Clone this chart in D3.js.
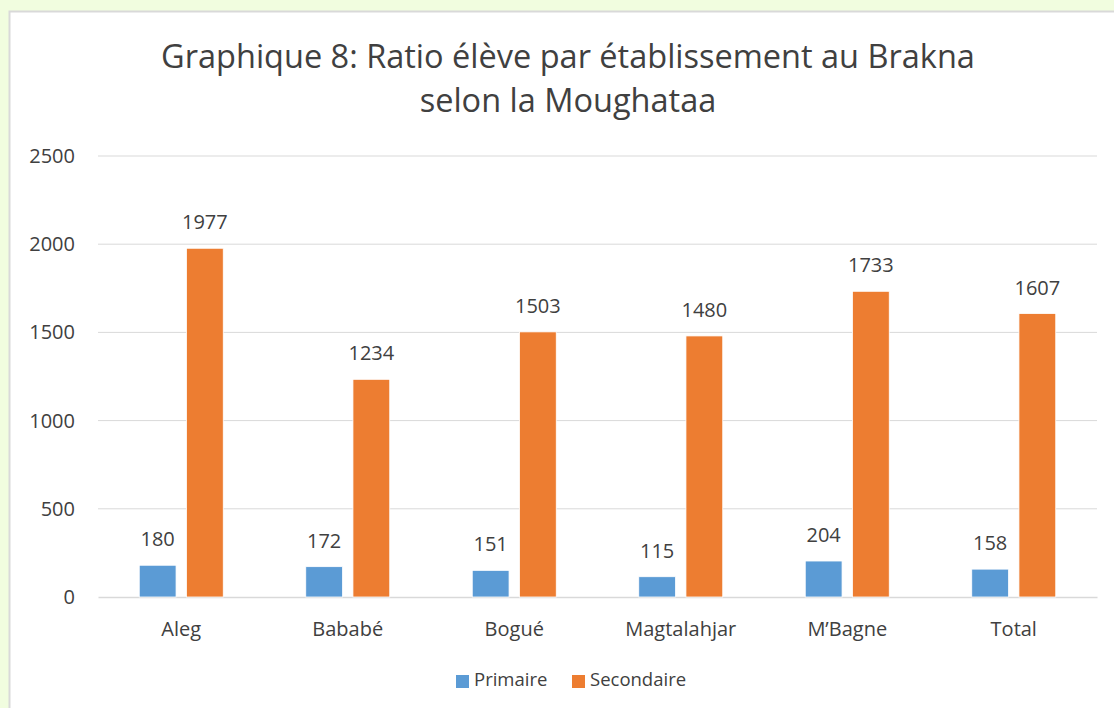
<!DOCTYPE html>
<html>
<head>
<meta charset="utf-8">
<script src="https://cdnjs.cloudflare.com/ajax/libs/d3/7.8.5/d3.min.js"></script>
<style>
  body { margin: 0; background: #f1fddf; }
  svg { display: block; font-family: "Open Sans", "Noto Sans", sans-serif; }
  svg text { font-family: "Open Sans", "Noto Sans", sans-serif; }
</style>
</head>
<body>
<div id="chart"></div>
<script>
// Chart data
const categories = ["Aleg", "Bababé", "Bogué", "Magtalahjar", "M\u2019Bagne", "Total"];
const primaire = [180, 172, 151, 115, 204, 158];
const secondaire = [1977, 1234, 1503, 1480, 1733, 1607];
const yTicks = [0, 500, 1000, 1500, 2000, 2500];
const seriesNames = ["Primaire", "Secondaire"];
const colors = ["#5b9bd5", "#ed7d31"];

const W = 1114, H = 708;
const margin = { top: 156, right: 17, bottom: 111, left: 98 };
const innerW = W - margin.left - margin.right;
const innerH = H - margin.top - margin.bottom;

const svg = d3.select("#chart").append("svg")
    .attr("width", W)
    .attr("height", H);

// white chart panel
svg.append("rect")
    .attr("x", 9.5).attr("y", 11.5)
    .attr("width", W).attr("height", H)
    .attr("fill", "#fff")
    .attr("stroke", "#d9d9d9")
    .attr("stroke-width", 2);

// title (two lines)
const titleLines = ["Graphique 8: Ratio élève par établissement au Brakna", "selon la Moughataa"];
svg.selectAll(".title")
    .data(titleLines)
    .join("text")
    .attr("x", 568)
    .attr("y", (d, i) => 68 + i * 44)
    .attr("text-anchor", "middle")
    .attr("fill", "#404040")
    .style("font-size", "32.5px")
    .text(d => d);

const g = svg.append("g")
    .attr("transform", `translate(${margin.left},${margin.top})`);

const x0 = d3.scaleBand().domain(categories).range([0, innerW]).paddingInner(0).paddingOuter(0);
const x1 = d3.scaleBand().domain(seriesNames).range([x0.bandwidth() / 2 - 42, x0.bandwidth() / 2 + 42]).paddingInner(0.22);
const y = d3.scaleLinear().domain([0, 2500]).range([innerH, 0]);

// gridlines
g.append("g").selectAll("line")
    .data(yTicks.filter(d => d > 0))
    .join("line")
    .attr("x1", 0).attr("x2", innerW)
    .attr("y1", d => y(d)).attr("y2", d => y(d))
    .attr("stroke", "#d9d9d9")
    .attr("stroke-width", 1);

// y axis labels
const yAxis = g.append("g")
    .call(d3.axisLeft(y).tickValues(yTicks).tickFormat(d3.format("d")).tickSize(0).tickPadding(23))
    .call(a => a.select(".domain").remove());
yAxis.attr("font-family", null).attr("font-size", null);
yAxis.selectAll("text")
    .attr("fill", "#404040")
    .style("font-size", "20px");

// x axis
const xAxis = g.append("g")
    .attr("transform", `translate(0,${innerH})`)
    .call(d3.axisBottom(x0).tickSize(0).tickPadding(25));
xAxis.attr("font-family", null).attr("font-size", null);
xAxis.select(".domain").attr("stroke", "#d9d9d9").attr("stroke-width", 1.5);
xAxis.selectAll("text")
    .attr("fill", "#404040")
    .style("font-size", "20px");

const rows = categories.map((c, i) => ({ cat: c, vals: [primaire[i], secondaire[i]] }));

const groups = g.selectAll(".grp")
    .data(rows)
    .join("g")
    .attr("transform", d => `translate(${x0(d.cat)},0)`);

groups.selectAll("rect")
    .data(d => d.vals.map((v, j) => ({ s: seriesNames[j], v, j })))
    .join("rect")
    .attr("x", d => x1(d.s))
    .attr("width", x1.bandwidth())
    .attr("y", d => y(d.v))
    .attr("height", d => innerH - y(d.v))
    .attr("fill", d => colors[d.j])
    .attr("stroke", "#fff")
    .attr("stroke-width", 0.8);

groups.selectAll(".lbl")
    .data(d => d.vals.map((v, j) => ({ s: seriesNames[j], v, j })))
    .join("text")
    .attr("x", d => x1(d.s) + x1.bandwidth() / 2)
    .attr("y", d => y(d.v) - 19)
    .attr("text-anchor", "middle")
    .attr("fill", "#404040")
    .style("font-size", "20px")
    .text(d => d.v);

// legend
const legend = svg.append("g").attr("transform", "translate(456,686)");
const items = [{ x: 0 }, { x: 116 }];
seriesNames.forEach((s, i) => {
    const it = legend.append("g").attr("transform", `translate(${items[i].x},0)`);
    it.append("rect").attr("x", 0).attr("y", -11).attr("width", 13).attr("height", 13).attr("fill", colors[i]);
    it.append("text").attr("x", 18).attr("y", 0).attr("fill", "#404040")
        .style("font-size", "18.5px").text(s);
});
</script>
</body>
</html>
